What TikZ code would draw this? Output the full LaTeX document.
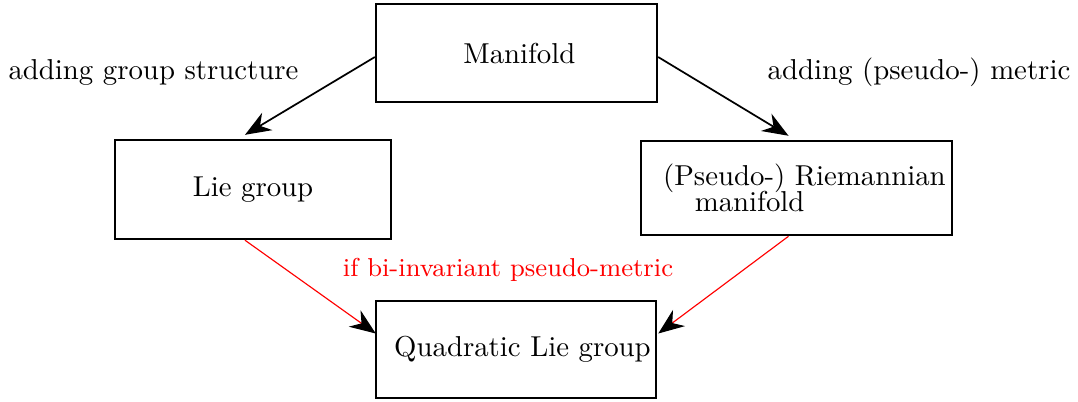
\documentclass[tikz,border=0pt]{standalone}
\usepackage{tikz}
\usetikzlibrary{calc}
\usetikzlibrary{arrows.meta}

\tikzset{
  bloc/.style={draw=black, thick, rectangle, inner sep=0pt},
  fleche/.style={-{Stealth[length=9pt,width=7pt]}, black, semithick},
  rouge/.style={-{Stealth[length=9pt,width=7pt,color=black]}, red}
}

\begin{document}
\begin{tikzpicture}[x=0.0122cm, y=-0.0122cm]
        \useasboundingbox (0,0) rectangle (1078,401);
        % boxes
        \node[bloc, minimum width=3.43cm, minimum height=1.20cm] (manifold) at (516.5,53) {\hspace*{2pt}Manifold};
        \node[bloc, minimum width=3.37cm, minimum height=1.21cm] (liegroup) at (253,189.5) {Lie group};
        \node[bloc, minimum width=3.79cm, minimum height=1.15cm, align=left] (riemann) at (796.5,188)
            {\hspace*{5.5pt}(Pseudo-) Riemannian\\[-3pt]\hspace*{16.5pt}manifold};
        \node[bloc, minimum width=3.42cm, minimum height=1.18cm] (quadratic) at (516,349.5) {\hspace*{4.5pt}Quadratic Lie group};

        % labels
        \node[] (lgroup) at (153.5,72) {adding group structure};
        \node[] (lmetric) at (919,72) {adding (pseudo-) metric};
        \node[red, font=\small] (lbiinv) at (508,270) {if bi-invariant pseudo-metric};

        % arrows
        \draw[fleche] ($(manifold.west)+(0,4)$) -- ($(liegroup.north)+(-8,-4)$);
        \draw[fleche] ($(manifold.east)+(0,4)$) -- ($(riemann.north)+(-8,-4)$);
        \draw[rouge] ($(liegroup.south)+(-8,0)$) -- ($(quadratic.west)+(1,-16)$);
        \draw[rouge] ($(riemann.south)+(-8,0)$) -- ($(quadratic.east)+(1,-16)$);
    \end{tikzpicture}
\end{document}
